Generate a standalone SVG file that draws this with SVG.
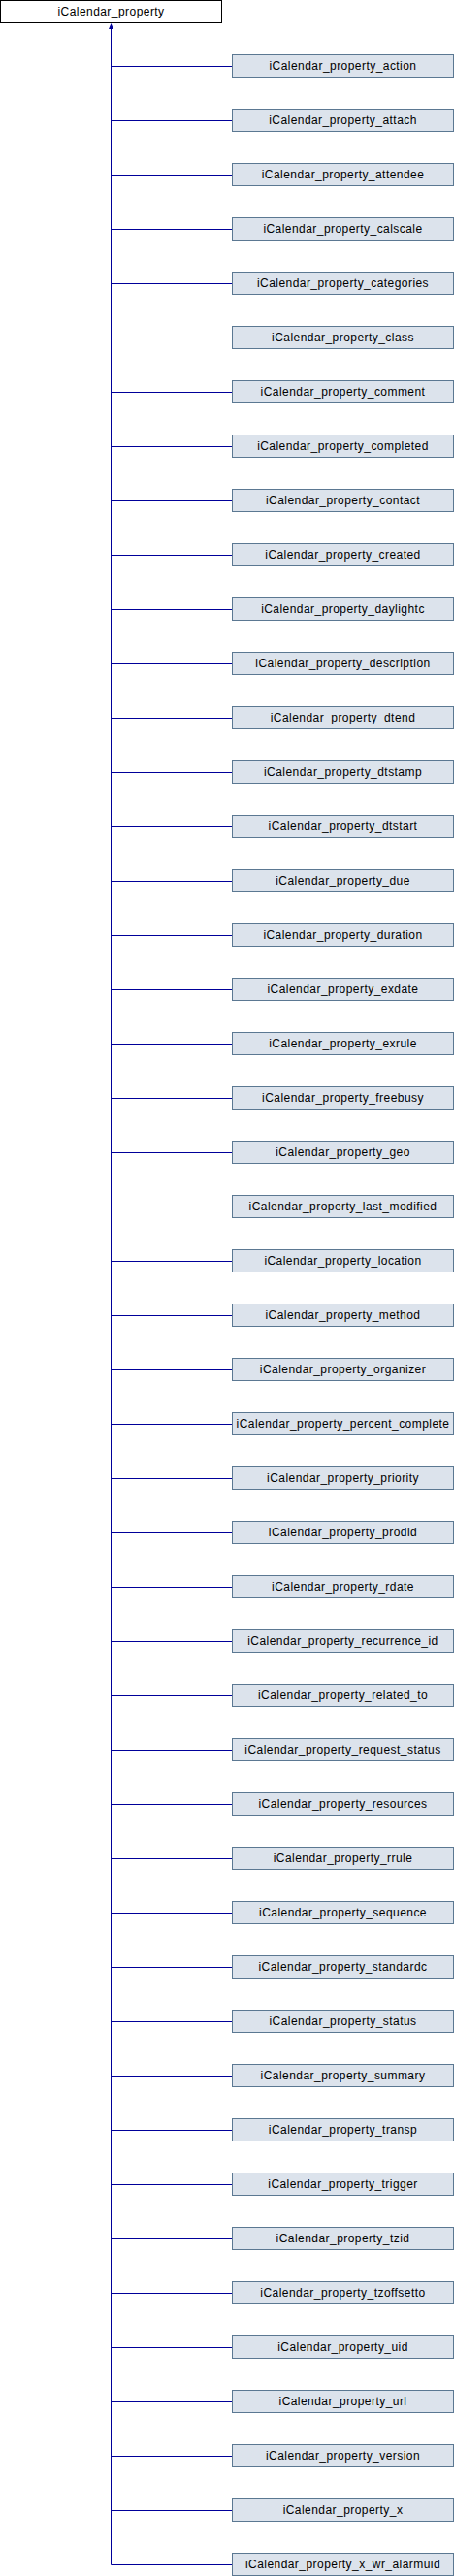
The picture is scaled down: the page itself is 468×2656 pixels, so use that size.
<svg xmlns="http://www.w3.org/2000/svg" width="468" height="2656" viewBox="0 0 468 2656">
<style>
.b rect{fill:#dce3ec;stroke:#5b7892;stroke-width:1}
.r rect{fill:#ffffff;stroke:#000000;stroke-width:1}
text{font-family:"Liberation Sans",Arial,sans-serif;font-size:12px;letter-spacing:0.45px;fill:#000;text-anchor:middle;dominant-baseline:central}
.c line{stroke:#00009a;stroke-width:1}
</style>
<rect width="468" height="2656" fill="#fff"/>
<g id="connectors" class="c">
<line x1="114.5" y1="26" x2="114.5" y2="2644.5"/>
<polygon points="114.5,24 117,30 112,30" fill="#00009a"/>
<line x1="114.5" y1="68.5" x2="239.5" y2="68.5"/>
<line x1="114.5" y1="124.5" x2="239.5" y2="124.5"/>
<line x1="114.5" y1="180.5" x2="239.5" y2="180.5"/>
<line x1="114.5" y1="236.5" x2="239.5" y2="236.5"/>
<line x1="114.5" y1="292.5" x2="239.5" y2="292.5"/>
<line x1="114.5" y1="348.5" x2="239.5" y2="348.5"/>
<line x1="114.5" y1="404.5" x2="239.5" y2="404.5"/>
<line x1="114.5" y1="460.5" x2="239.5" y2="460.5"/>
<line x1="114.5" y1="516.5" x2="239.5" y2="516.5"/>
<line x1="114.5" y1="572.5" x2="239.5" y2="572.5"/>
<line x1="114.5" y1="628.5" x2="239.5" y2="628.5"/>
<line x1="114.5" y1="684.5" x2="239.5" y2="684.5"/>
<line x1="114.5" y1="740.5" x2="239.5" y2="740.5"/>
<line x1="114.5" y1="796.5" x2="239.5" y2="796.5"/>
<line x1="114.5" y1="852.5" x2="239.5" y2="852.5"/>
<line x1="114.5" y1="908.5" x2="239.5" y2="908.5"/>
<line x1="114.5" y1="964.5" x2="239.5" y2="964.5"/>
<line x1="114.5" y1="1020.5" x2="239.5" y2="1020.5"/>
<line x1="114.5" y1="1076.5" x2="239.5" y2="1076.5"/>
<line x1="114.5" y1="1132.5" x2="239.5" y2="1132.5"/>
<line x1="114.5" y1="1188.5" x2="239.5" y2="1188.5"/>
<line x1="114.5" y1="1244.5" x2="239.5" y2="1244.5"/>
<line x1="114.5" y1="1300.5" x2="239.5" y2="1300.5"/>
<line x1="114.5" y1="1356.5" x2="239.5" y2="1356.5"/>
<line x1="114.5" y1="1412.5" x2="239.5" y2="1412.5"/>
<line x1="114.5" y1="1468.5" x2="239.5" y2="1468.5"/>
<line x1="114.5" y1="1524.5" x2="239.5" y2="1524.5"/>
<line x1="114.5" y1="1580.5" x2="239.5" y2="1580.5"/>
<line x1="114.5" y1="1636.5" x2="239.5" y2="1636.5"/>
<line x1="114.5" y1="1692.5" x2="239.5" y2="1692.5"/>
<line x1="114.5" y1="1748.5" x2="239.5" y2="1748.5"/>
<line x1="114.5" y1="1804.5" x2="239.5" y2="1804.5"/>
<line x1="114.5" y1="1860.5" x2="239.5" y2="1860.5"/>
<line x1="114.5" y1="1916.5" x2="239.5" y2="1916.5"/>
<line x1="114.5" y1="1972.5" x2="239.5" y2="1972.5"/>
<line x1="114.5" y1="2028.5" x2="239.5" y2="2028.5"/>
<line x1="114.5" y1="2084.5" x2="239.5" y2="2084.5"/>
<line x1="114.5" y1="2140.5" x2="239.5" y2="2140.5"/>
<line x1="114.5" y1="2196.5" x2="239.5" y2="2196.5"/>
<line x1="114.5" y1="2252.5" x2="239.5" y2="2252.5"/>
<line x1="114.5" y1="2308.5" x2="239.5" y2="2308.5"/>
<line x1="114.5" y1="2364.5" x2="239.5" y2="2364.5"/>
<line x1="114.5" y1="2420.5" x2="239.5" y2="2420.5"/>
<line x1="114.5" y1="2476.5" x2="239.5" y2="2476.5"/>
<line x1="114.5" y1="2532.5" x2="239.5" y2="2532.5"/>
<line x1="114.5" y1="2588.5" x2="239.5" y2="2588.5"/>
<line x1="114.5" y1="2644.5" x2="239.5" y2="2644.5"/>
</g>
<g id="iCalendar_property" class="r"><rect x="0.5" y="0.5" width="228" height="23"/><text x="114.5" y="12">iCalendar_property</text></g>
<g id="n_action" class="b"><rect x="239.5" y="56.5" width="228" height="23"/><text x="353.5" y="68">iCalendar_property_action</text></g>
<g id="n_attach" class="b"><rect x="239.5" y="112.5" width="228" height="23"/><text x="353.5" y="124">iCalendar_property_attach</text></g>
<g id="n_attendee" class="b"><rect x="239.5" y="168.5" width="228" height="23"/><text x="353.5" y="180">iCalendar_property_attendee</text></g>
<g id="n_calscale" class="b"><rect x="239.5" y="224.5" width="228" height="23"/><text x="353.5" y="236">iCalendar_property_calscale</text></g>
<g id="n_categories" class="b"><rect x="239.5" y="280.5" width="228" height="23"/><text x="353.5" y="292">iCalendar_property_categories</text></g>
<g id="n_class" class="b"><rect x="239.5" y="336.5" width="228" height="23"/><text x="353.5" y="348">iCalendar_property_class</text></g>
<g id="n_comment" class="b"><rect x="239.5" y="392.5" width="228" height="23"/><text x="353.5" y="404">iCalendar_property_comment</text></g>
<g id="n_completed" class="b"><rect x="239.5" y="448.5" width="228" height="23"/><text x="353.5" y="460">iCalendar_property_completed</text></g>
<g id="n_contact" class="b"><rect x="239.5" y="504.5" width="228" height="23"/><text x="353.5" y="516">iCalendar_property_contact</text></g>
<g id="n_created" class="b"><rect x="239.5" y="560.5" width="228" height="23"/><text x="353.5" y="572">iCalendar_property_created</text></g>
<g id="n_daylightc" class="b"><rect x="239.5" y="616.5" width="228" height="23"/><text x="353.5" y="628">iCalendar_property_daylightc</text></g>
<g id="n_description" class="b"><rect x="239.5" y="672.5" width="228" height="23"/><text x="353.5" y="684">iCalendar_property_description</text></g>
<g id="n_dtend" class="b"><rect x="239.5" y="728.5" width="228" height="23"/><text x="353.5" y="740">iCalendar_property_dtend</text></g>
<g id="n_dtstamp" class="b"><rect x="239.5" y="784.5" width="228" height="23"/><text x="353.5" y="796">iCalendar_property_dtstamp</text></g>
<g id="n_dtstart" class="b"><rect x="239.5" y="840.5" width="228" height="23"/><text x="353.5" y="852">iCalendar_property_dtstart</text></g>
<g id="n_due" class="b"><rect x="239.5" y="896.5" width="228" height="23"/><text x="353.5" y="908">iCalendar_property_due</text></g>
<g id="n_duration" class="b"><rect x="239.5" y="952.5" width="228" height="23"/><text x="353.5" y="964">iCalendar_property_duration</text></g>
<g id="n_exdate" class="b"><rect x="239.5" y="1008.5" width="228" height="23"/><text x="353.5" y="1020">iCalendar_property_exdate</text></g>
<g id="n_exrule" class="b"><rect x="239.5" y="1064.5" width="228" height="23"/><text x="353.5" y="1076">iCalendar_property_exrule</text></g>
<g id="n_freebusy" class="b"><rect x="239.5" y="1120.5" width="228" height="23"/><text x="353.5" y="1132">iCalendar_property_freebusy</text></g>
<g id="n_geo" class="b"><rect x="239.5" y="1176.5" width="228" height="23"/><text x="353.5" y="1188">iCalendar_property_geo</text></g>
<g id="n_last_modified" class="b"><rect x="239.5" y="1232.5" width="228" height="23"/><text x="353.5" y="1244">iCalendar_property_last_modified</text></g>
<g id="n_location" class="b"><rect x="239.5" y="1288.5" width="228" height="23"/><text x="353.5" y="1300">iCalendar_property_location</text></g>
<g id="n_method" class="b"><rect x="239.5" y="1344.5" width="228" height="23"/><text x="353.5" y="1356">iCalendar_property_method</text></g>
<g id="n_organizer" class="b"><rect x="239.5" y="1400.5" width="228" height="23"/><text x="353.5" y="1412">iCalendar_property_organizer</text></g>
<g id="n_percent_complete" class="b"><rect x="239.5" y="1456.5" width="228" height="23"/><text x="353.5" y="1468">iCalendar_property_percent_complete</text></g>
<g id="n_priority" class="b"><rect x="239.5" y="1512.5" width="228" height="23"/><text x="353.5" y="1524">iCalendar_property_priority</text></g>
<g id="n_prodid" class="b"><rect x="239.5" y="1568.5" width="228" height="23"/><text x="353.5" y="1580">iCalendar_property_prodid</text></g>
<g id="n_rdate" class="b"><rect x="239.5" y="1624.5" width="228" height="23"/><text x="353.5" y="1636">iCalendar_property_rdate</text></g>
<g id="n_recurrence_id" class="b"><rect x="239.5" y="1680.5" width="228" height="23"/><text x="353.5" y="1692">iCalendar_property_recurrence_id</text></g>
<g id="n_related_to" class="b"><rect x="239.5" y="1736.5" width="228" height="23"/><text x="353.5" y="1748">iCalendar_property_related_to</text></g>
<g id="n_request_status" class="b"><rect x="239.5" y="1792.5" width="228" height="23"/><text x="353.5" y="1804">iCalendar_property_request_status</text></g>
<g id="n_resources" class="b"><rect x="239.5" y="1848.5" width="228" height="23"/><text x="353.5" y="1860">iCalendar_property_resources</text></g>
<g id="n_rrule" class="b"><rect x="239.5" y="1904.5" width="228" height="23"/><text x="353.5" y="1916">iCalendar_property_rrule</text></g>
<g id="n_sequence" class="b"><rect x="239.5" y="1960.5" width="228" height="23"/><text x="353.5" y="1972">iCalendar_property_sequence</text></g>
<g id="n_standardc" class="b"><rect x="239.5" y="2016.5" width="228" height="23"/><text x="353.5" y="2028">iCalendar_property_standardc</text></g>
<g id="n_status" class="b"><rect x="239.5" y="2072.5" width="228" height="23"/><text x="353.5" y="2084">iCalendar_property_status</text></g>
<g id="n_summary" class="b"><rect x="239.5" y="2128.5" width="228" height="23"/><text x="353.5" y="2140">iCalendar_property_summary</text></g>
<g id="n_transp" class="b"><rect x="239.5" y="2184.5" width="228" height="23"/><text x="353.5" y="2196">iCalendar_property_transp</text></g>
<g id="n_trigger" class="b"><rect x="239.5" y="2240.5" width="228" height="23"/><text x="353.5" y="2252">iCalendar_property_trigger</text></g>
<g id="n_tzid" class="b"><rect x="239.5" y="2296.5" width="228" height="23"/><text x="353.5" y="2308">iCalendar_property_tzid</text></g>
<g id="n_tzoffsetto" class="b"><rect x="239.5" y="2352.5" width="228" height="23"/><text x="353.5" y="2364">iCalendar_property_tzoffsetto</text></g>
<g id="n_uid" class="b"><rect x="239.5" y="2408.5" width="228" height="23"/><text x="353.5" y="2420">iCalendar_property_uid</text></g>
<g id="n_url" class="b"><rect x="239.5" y="2464.5" width="228" height="23"/><text x="353.5" y="2476">iCalendar_property_url</text></g>
<g id="n_version" class="b"><rect x="239.5" y="2520.5" width="228" height="23"/><text x="353.5" y="2532">iCalendar_property_version</text></g>
<g id="n_x" class="b"><rect x="239.5" y="2576.5" width="228" height="23"/><text x="353.5" y="2588">iCalendar_property_x</text></g>
<g id="n_x_wr_alarmuid" class="b"><rect x="239.5" y="2632.5" width="228" height="23"/><text x="353.5" y="2644">iCalendar_property_x_wr_alarmuid</text></g>
</svg>
